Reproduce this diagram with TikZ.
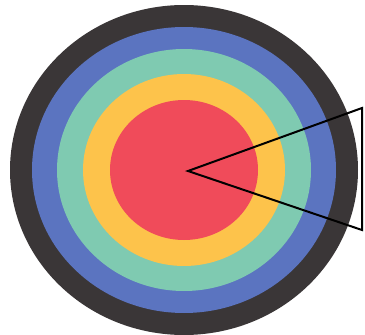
\documentclass[tikz,border=0pt]{standalone}
\usepackage{tikz}

\definecolor{ringdark}{HTML}{3A3637}
\definecolor{ringblue}{HTML}{5B74C0}
\definecolor{ringteal}{HTML}{7FCAB1}
\definecolor{ringyellow}{HTML}{FDC34B}
\definecolor{ringred}{HTML}{F04B5A}

\begin{document}
\begin{tikzpicture}[x=1pt, y=-1pt]
  \useasboundingbox (0,0) rectangle (365,335);
  \coordinate (c) at (184,170);
  \fill[ringdark] (c) ellipse [x radius=174, y radius=165];
  \fill[ringblue] (c) ellipse [x radius=152, y radius=143];
  \fill[ringteal] (c) ellipse [x radius=127, y radius=121];
  \fill[ringyellow] (c) ellipse [x radius=101, y radius=96];
  \fill[ringred] (c) ellipse [x radius=74, y radius=70];
  \coordinate (apex) at (188,171);
  \coordinate (t1) at (362,108);
  \coordinate (t2) at (362,230);
  \draw[line width=2pt, line join=miter] (apex) -- (t1) -- (t2) -- cycle;
\end{tikzpicture}
\end{document}
